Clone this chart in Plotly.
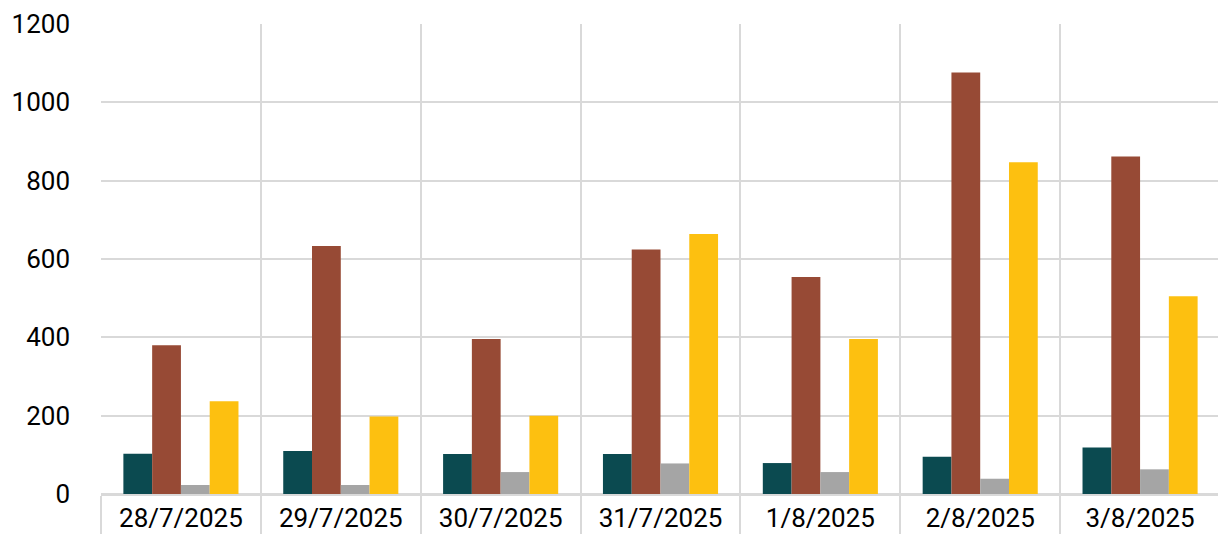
import plotly.graph_objects as go

categories = ["28/7/2025", "29/7/2025", "30/7/2025", "31/7/2025", "1/8/2025", "2/8/2025", "3/8/2025"]
series_a = [103, 110, 102, 102, 79, 95, 119]
series_b = [380, 633, 396, 624, 554, 1076, 862]
series_c = [23, 23, 56, 78, 56, 39, 63]
series_d = [237, 198, 200, 664, 396, 847, 505]
y_ticks = [0, 200, 400, 600, 800, 1000, 1200]

colors = ["#0B4A50", "#974A35", "#A5A5A5", "#FDC010"]
names = ["Series A", "Series B", "Series C", "Series D"]

fig = go.Figure()
for name, vals, col in zip(names, [series_a, series_b, series_c, series_d], colors):
    fig.add_trace(go.Bar(x=categories, y=vals, name=name, marker_color=col,
                         marker_line_width=0))

grid = "#D9D9D9"
fig.update_layout(
    width=1218, height=526,
    margin=dict(l=93, r=6, t=16, b=40),
    barmode="group", bargap=0.28, bargroupgap=0,
    plot_bgcolor="white", paper_bgcolor="white",
    showlegend=False,
    font=dict(family="Roboto", size=26, color="#000000"),
)
fig.update_xaxes(
    type="category", tickson="boundaries", showgrid=True, gridcolor=grid, gridwidth=2,
    ticks="outside", ticklen=40, tickcolor=grid, tickwidth=2,
    showline=True, linecolor=grid, linewidth=2, mirror=False,
    tickfont=dict(size=26), automargin=False,
)
fig.update_yaxes(
    range=[0, 1200], tickvals=y_ticks, showgrid=True, gridcolor=grid, gridwidth=2,
    zeroline=True, zerolinecolor=grid, zerolinewidth=2,
    showline=False, ticks="", ticklabelstandoff=30,
    tickfont=dict(size=26), automargin=False,
)
fig.write_html("out.html")
